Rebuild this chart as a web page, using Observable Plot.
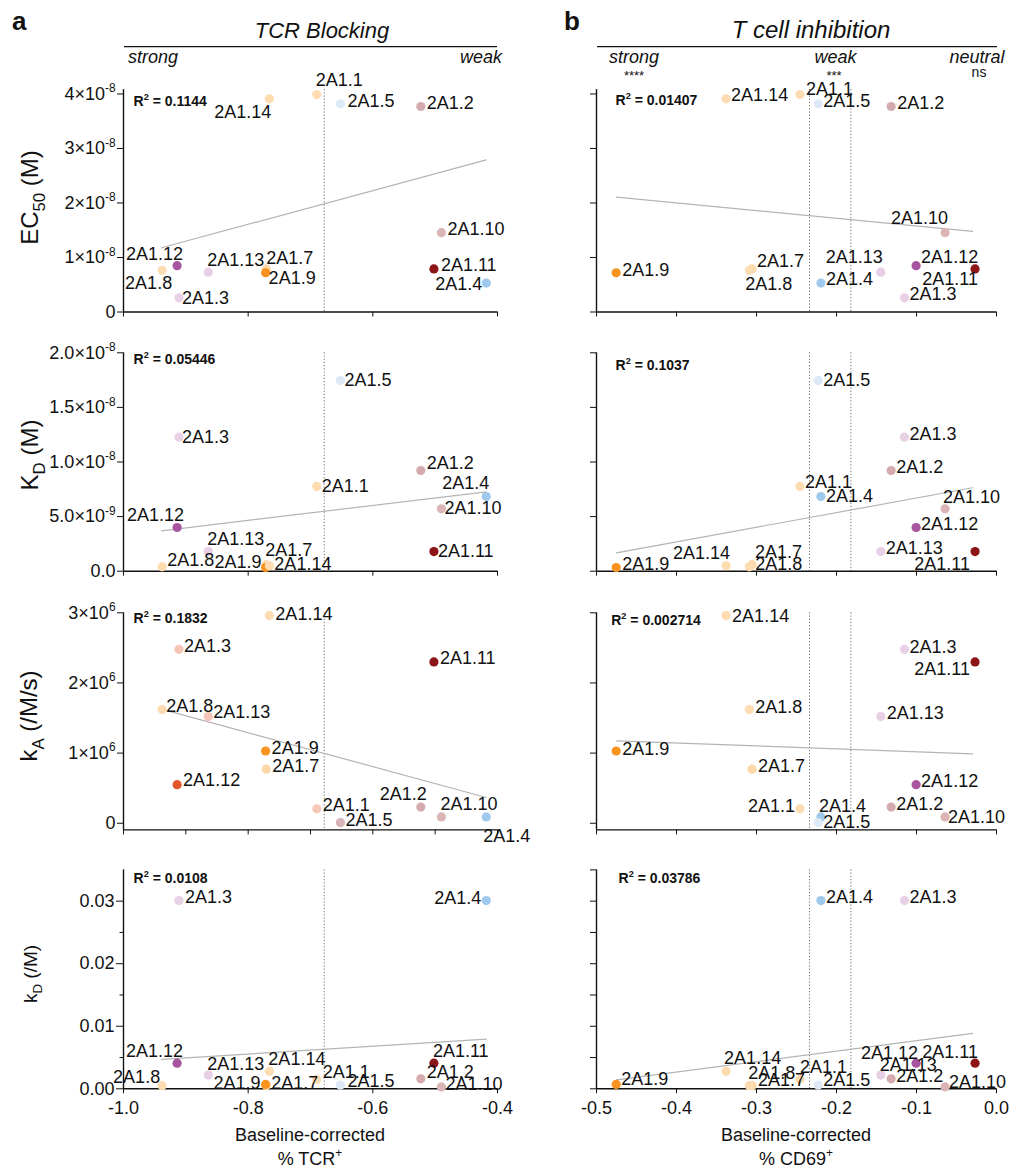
<!DOCTYPE html>
<html><head><meta charset="utf-8">
<script src="https://cdn.jsdelivr.net/npm/d3@7"></script>
<script src="https://cdn.jsdelivr.net/npm/@observablehq/plot@0.6"></script>
<style>
body{margin:0;background:#fff;}
#root{position:relative;width:1013px;height:1171px;overflow:hidden;font-family:"Liberation Sans",Arial,Helvetica,sans-serif;background:#fff;}
.panel{position:absolute;}
#overlay{position:absolute;left:0;top:0;pointer-events:none;}
</style></head><body><div id="root"></div>
<script>
// ---------------- DATA ----------------
const antibodies = ["2A1.1","2A1.2","2A1.3","2A1.4","2A1.5","2A1.7","2A1.8","2A1.9","2A1.10","2A1.11","2A1.12","2A1.13","2A1.14"];
// baseline-corrected % TCR+ (TCR blocking)
const tcrX  = [-0.690,-0.523,-0.911,-0.418,-0.652,-0.771,-0.938,-0.772,-0.490,-0.502,-0.914,-0.864,-0.766];
// baseline-corrected % CD69+ (T cell inhibition)
const cd69X = [-0.2457,-0.1317,-0.115,-0.2195,-0.2228,-0.3056,-0.309,-0.4754,-0.0643,-0.0268,-0.1005,-0.1446,-0.338];
const ec50  = [3.99e-8,3.77e-8,0.26e-8,0.53e-8,3.82e-8,0.79e-8,0.765e-8,0.72e-8,1.455e-8,0.79e-8,0.85e-8,0.73e-8,3.91e-8];
const kdEq  = [0.776e-8,0.922e-8,1.227e-8,0.684e-8,1.746e-8,0.06e-8,0.04e-8,0.034e-8,0.571e-8,0.18e-8,0.40e-8,0.18e-8,0.05e-8];
const kOn   = [0.205e6,0.23e6,2.48e6,0.09e6,0.01e6,0.77e6,1.62e6,1.03e6,0.09e6,2.30e6,0.55e6,1.52e6,2.96e6];
const kOff  = [0.0015,0.0016,0.0301,0.0301,0.0006,0.0005,0.0005,0.0007,0.0003,0.0041,0.0041,0.0022,0.0028];

// linear fits (end points)
const fitTcrX  = [-0.939,-0.418];
const fitCd69X = [-0.475,-0.030];
const fitEc50Tcr = [1.178e-8, 2.79e-8],  fitEc50Cd69 = [2.107e-8, 1.48e-8];
const fitKdTcr   = [0.370e-8, 0.727e-8], fitKdCd69   = [0.168e-8, 0.764e-8];
const fitKaTcr   = [1.626e6, 0.367e6],   fitKaCd69   = [1.175e6, 0.99e6];
const fitKoffTcr = [0.00469, 0.00794],   fitKoffCd69 = [0.00144, 0.00885];
const r2Tcr  = ["0.1144","0.05446","0.1832","0.0108"];
const r2Cd69 = ["0.01407","0.1037","0.002714","0.03786"];

const tcrCutoffs  = [-0.678];
const cd69Cutoffs = [-0.2337,-0.182];

// ticks
const tcrTicks = [-1.0,-0.8,-0.6,-0.4];
const tcrTicksFine = [-1.0,-0.9,-0.8,-0.7,-0.6,-0.5,-0.4];
const cd69Ticks = [-0.5,-0.4,-0.3,-0.2,-0.1,0];
const ec50Ticks = [0,1e-8,2e-8,3e-8,4e-8];
const ec50TickLabels = ["0","1×10^{-8}","2×10^{-8}","3×10^{-8}","4×10^{-8}"];
const kdTicks = [0,5e-9,1e-8,1.5e-8,2e-8];
const kdTickLabels = ["0.0","5.0×10^{-9}","1.0×10^{-8}","1.5×10^{-8}","2.0×10^{-8}"];
const kaTicks = [0,1e6,2e6,3e6];
const kaTickLabels = ["0","1×10^{6}","2×10^{6}","3×10^{6}"];
const koffTicks = [0,0.01,0.02,0.03];
const koffTickLabels = ["0.00","0.01","0.02","0.03"];
const koffMinorTicks = [0.005,0.015,0.025];
const koffTicksRight = [0,0.005,0.01,0.015,0.02,0.025,0.03,0.035];

// ---------------- STYLE / LAYOUT ----------------
const FONT = '"Liberation Sans", Arial, Helvetica, sans-serif';
const baseColors = {"2A1.1":"#fddcb2","2A1.2":"#d5aaae","2A1.3":"#e8d0e6","2A1.4":"#9fc9ec","2A1.5":"#dde9f6",
  "2A1.7":"#fdd8a8","2A1.8":"#fddcb2","2A1.9":"#f7931e","2A1.10":"#dbb5b5","2A1.11":"#8c1518",
  "2A1.12":"#a8559f","2A1.13":"#e8cfe6","2A1.14":"#fddcb2"};
const colorOverrides = {"2L": {"2A1.1":"#f7c8b7","2A1.3":"#f5c5b8","2A1.13":"#f5c5b8","2A1.12":"#e2562c","2A1.5":"#d8b3b8"}};

// label placement [dx, dy, anchor] per panel
const S="start", E="end";
const labelPos = {
 "0L": {"2A1.14":[2,13,E],"2A1.1":[-1,-14,S],"2A1.5":[7,-3,S],"2A1.2":[6,-3,S],"2A1.10":[6,-3,S],"2A1.11":[7,-4,S],
        "2A1.4":[-4,1,E],"2A1.12":[6,-11,E],"2A1.8":[10,13,E],"2A1.3":[3,0,S],"2A1.13":[-1,-12,S],"2A1.7":[0,-11,S],"2A1.9":[3,5,S]},
 "0R": {"2A1.14":[5,-4,S],"2A1.1":[6,-5,S],"2A1.5":[5,-3,S],"2A1.2":[6,-3,S],"2A1.10":[3,-14,E],"2A1.9":[6,-3,S],"2A1.7":[5,-8,S],
        "2A1.8":[-4,14,S],"2A1.13":[2,-15,E],"2A1.4":[5,-4,S],"2A1.12":[5,-8,S],"2A1.11":[3,10,E],"2A1.3":[5,-4,S]},
 "1L": {"2A1.5":[4,0,S],"2A1.3":[3,0,S],"2A1.2":[6,-7,S],"2A1.1":[5,0,S],"2A1.4":[3,-13,E],"2A1.10":[3,-1,S],"2A1.12":[7,-12,E],
        "2A1.11":[4,0,S],"2A1.13":[-1,-12,S],"2A1.8":[5,-7,S],"2A1.9":[-4,-5,E],"2A1.7":[-1,-14,S],"2A1.14":[5,-2,S]},
 "1R": {"2A1.5":[5,0,S],"2A1.3":[5,-3,S],"2A1.2":[5,-3,S],"2A1.1":[5,-4,S],"2A1.4":[5,0,S],"2A1.10":[-2,-12,S],"2A1.12":[5,-3,S],
        "2A1.13":[5,-3,S],"2A1.11":[-5,13,E],"2A1.9":[6,-3,S],"2A1.14":[4,-13,E],"2A1.7":[3,-12,S],"2A1.8":[6,-3,S]},
 "2L": {"2A1.14":[6,-1,S],"2A1.3":[5,-3,S],"2A1.11":[6,-4,S],"2A1.8":[4,-3,S],"2A1.13":[5,-4,S],"2A1.9":[6,-3,S],"2A1.7":[6,-3,S],
        "2A1.12":[6,-4,S],"2A1.1":[6,-4,S],"2A1.2":[6,-13,E],"2A1.5":[5,-2,S],"2A1.10":[-1,-13,S],"2A1.4":[-3,19,S]},
 "2R": {"2A1.14":[6,1,S],"2A1.3":[5,-2,S],"2A1.11":[-5,7,E],"2A1.8":[6,-2,S],"2A1.13":[6,-3,S],"2A1.9":[6,-2,S],"2A1.7":[6,-3,S],
        "2A1.12":[5,-3,S],"2A1.1":[-5,-3,E],"2A1.4":[-2,-11,S],"2A1.2":[5,-3,S],"2A1.5":[5,0,S],"2A1.10":[3,0,S]},
 "3L": {"2A1.3":[6,-3,S],"2A1.4":[-5,-2,E],"2A1.12":[6,-12,E],"2A1.11":[-1,-12,S],"2A1.13":[-1,-11,S],"2A1.14":[-1,-12,S],
        "2A1.8":[-2,-8,E],"2A1.9":[-5,-1,E],"2A1.7":[5,-2,S],"2A1.1":[6,-7,S],"2A1.5":[7,-4,S],"2A1.2":[6,-7,S],"2A1.10":[4,-3,S]},
 "3R": {"2A1.4":[5,-3,S],"2A1.3":[5,-3,S],"2A1.12":[2,-10,E],"2A1.11":[3,-11,E],"2A1.13":[-1,-10,S],"2A1.14":[-2,-13,S],
        "2A1.8":[-1,-12,S],"2A1.1":[0,-12,S],"2A1.7":[6,-5,S],"2A1.9":[5,-5,S],"2A1.5":[5,-5,S],"2A1.2":[5,-3,S],"2A1.10":[4,-5,S]}
};

const rowsLayout = [
  {top:60,  height:280, mt:29.1, mb:28.5},
  {top:330, height:270, mt:22.3, mb:29.3},
  {top:590, height:270, mt:22.3, mb:30.6},
  {top:850, height:321, mt:19.4, mb:82.7}
];
const sides = {
  L: {left:0, width:510, ml:123, mr:13, domain:[-1.0,-0.4], xs:tcrX, fitX:fitTcrX, cutoffs:tcrCutoffs},
  R: {left:540, width:473, ml:56, mr:17, domain:[-0.5,0.0], xs:cd69X, fitX:fitCd69X, cutoffs:cd69Cutoffs}
};
const metrics = [
  {ys:ec50, domain:[0,4.08e-8], ticks:ec50Ticks, labels:ec50TickLabels, fitL:fitEc50Tcr, fitR:fitEc50Cd69},
  {ys:kdEq, domain:[0,2e-8], ticks:kdTicks, labels:kdTickLabels, fitL:fitKdTcr, fitR:fitKdCd69},
  {ys:kOn, domain:[-0.095e6,3e6], ticks:kaTicks, labels:kaTickLabels, fitL:fitKaTcr, fitR:fitKaCd69},
  {ys:kOff, domain:[0,0.035], ticks:koffTicks, labels:koffTickLabels, fitL:fitKoffTcr, fitR:fitKoffCd69}
];
const r2Offsets = {L:[[10,6.4],[10,1.5],[10,0.5],[10,2.8]], R:[[19,5.7],[19,7.2],[14.7,2.2],[22,2.8]]};

const tickLeft = len => ({draw(ctx){ ctx.moveTo(-len,0); ctx.lineTo(0,0); }});

// ---------------- RICH TEXT (sup/sub) ----------------
const NS = "http://www.w3.org/2000/svg";
function richify(root){
  root.querySelectorAll("text").forEach(t => {
    const s = t.textContent;
    if (!/[\^_]\{/.test(s)) return;
    const fs = parseFloat(getComputedStyle(t).fontSize) || 18;
    while (t.firstChild) t.removeChild(t.firstChild);
    const re = /([\^_])\{([^}]*)\}/g;
    let last = 0, m, shift = 0;
    const add = (str, kind) => {
      const ts = document.createElementNS(NS, "tspan");
      ts.textContent = str;
      let target = 0;
      if (kind === "^") { target = -0.42*fs; ts.setAttribute("font-size", (0.66*fs).toFixed(1)); }
      else if (kind === "_") { target = 0.28*fs; ts.setAttribute("font-size", (0.7*fs).toFixed(1)); }
      const d = target - shift;
      if (d) ts.setAttribute("dy", d.toFixed(2));
      shift = target;
      t.appendChild(ts);
    };
    while ((m = re.exec(s))) { if (m.index > last) add(s.slice(last, m.index), ""); add(m[2], m[1]); last = re.lastIndex; }
    if (last < s.length) add(s.slice(last), "");
  });
}

// ---------------- PANELS ----------------
const root = document.getElementById("root");
rowsLayout.forEach((row, ri) => {
  const met = metrics[ri];
  ["L","R"].forEach(sk => {
    const side = sides[sk];
    const key = ri + sk;
    const colors = Object.assign({}, baseColors, colorOverrides[key] || {});
    const data = antibodies.map((name, i) => ({name, x: side.xs[i], y: met.ys[i], color: colors[name]}));
    const fitY = sk === "L" ? met.fitL : met.fitR;
    const fit = side.fitX.map((x, i) => ({x, y: fitY[i]}));
    const isBottom = ri === 3;
    let xTicks = sk === "L" ? (ri === 2 ? tcrTicksFine : tcrTicks) : cd69Ticks;
    const yTicks = (sk === "R" && ri === 3) ? koffTicksRight : met.ticks;
    const r2 = sk === "L" ? r2Tcr[ri] : r2Cd69[ri];
    const [r2dx, r2dy] = r2Offsets[sk][ri];
    const x0 = side.domain[0], y0 = met.domain[0];

    const marks = [
      Plot.ruleX(side.cutoffs, {stroke:"#6a6a6a", strokeWidth:1, strokeDasharray:"1.2,2"}),
      Plot.line(fit, {x:"x", y:"y", stroke:"#b4b4b4", strokeWidth:1.2}),
      Plot.ruleX([x0], {stroke:"#111", strokeWidth:1.4}),
      Plot.ruleY([y0], {stroke:"#111", strokeWidth:1.4})
    ];
    if (sk === "L" && ri === 3) {
      marks.push(Plot.dot(koffMinorTicks, {x: () => x0, y: d => d, symbol: tickLeft(4), stroke:"#111", strokeWidth:1, fill:"none"}));
    }
    marks.push(Plot.dot(data, {x:"x", y:"y", r:4.6, fill:"color"}));
    data.forEach(d => {
      const p = labelPos[key][d.name] || [5,-3,S];
      marks.push(Plot.text([d], {x:"x", y:"y", text:"name", dx:p[0], dy:p[1], textAnchor:p[2], fontSize:18, fill:"#111"}));
    });
    marks.push(Plot.text([`R^{2} = ${r2}`], {frameAnchor:"top-left", text: d => d, dx:r2dx, dy:r2dy,
      textAnchor:"start", fontSize:14, fontWeight:"bold", fill:"#111"}));

    const plot = Plot.plot({
      width: side.width, height: row.height,
      marginLeft: side.ml, marginRight: side.mr, marginTop: row.mt, marginBottom: row.mb,
      x: {domain: side.domain, ticks: xTicks, tickSize: 5, tickPadding: 7, label: null,
          tickFormat: isBottom ? (d => (Math.abs(d) < 1e-9 ? 0 : d).toFixed(1)) : (() => "")},
      y: {domain: met.domain, ticks: yTicks, tickSize: (ri === 3 && sk === "L") ? 7 : 6, tickPadding: 2, label: null,
          tickFormat: sk === "L" ? (d => met.labels[met.ticks.indexOf(d)]) : (() => "")},
      color: {type: "identity"},
      style: {fontFamily: FONT, fontSize: "18px", overflow: "visible", background: "transparent", color: "#111"},
      marks
    });
    const div = document.createElement("div");
    div.className = "panel";
    div.style.left = side.left + "px";
    div.style.top = row.top + "px";
    div.appendChild(plot);
    root.appendChild(div);
    richify(plot);
  });
});

// ---------------- OVERLAY (headers & axis titles) ----------------
const ov = d3.select(root).append("svg").attr("id","overlay").attr("width",1013).attr("height",1171)
  .style("font-family", FONT).attr("fill","#111");
function txt(x, y, s, o = {}) {
  const t = ov.append("text").attr("x", x).attr("y", y).attr("font-size", o.size || 18)
    .attr("text-anchor", o.anchor || "start").text(s);
  if (o.weight) t.attr("font-weight", o.weight);
  if (o.style) t.attr("font-style", o.style);
  if (o.rotate) t.attr("x", null).attr("y", null).attr("transform", `translate(${x},${y}) rotate(-90)`);
  return t;
}
txt(12, 30, "a", {size:26, weight:"bold"});
txt(564, 30, "b", {size:26, weight:"bold"});
txt(322, 38, "TCR Blocking", {size:22, style:"italic", anchor:"middle"});
txt(811, 38, "T cell inhibition", {size:24, style:"italic", anchor:"middle"});
ov.append("line").attr("x1",124).attr("x2",497).attr("y1",46.7).attr("y2",46.7).attr("stroke","#111").attr("stroke-width",1.3);
ov.append("line").attr("x1",597).attr("x2",997).attr("y1",46.7).attr("y2",46.7).attr("stroke","#111").attr("stroke-width",1.3);
txt(128, 63, "strong", {style:"italic"});
txt(502, 63, "weak", {style:"italic", anchor:"end"});
txt(634, 63, "strong", {style:"italic", anchor:"middle"});
txt(634, 80, "****", {size:13, anchor:"middle"});
txt(835.5, 63, "weak", {style:"italic", anchor:"middle"});
txt(834, 80, "***", {size:13, anchor:"middle"});
txt(1004.5, 63, "neutral", {style:"italic", anchor:"end"});
txt(979, 77, "ns", {size:14, anchor:"middle"});

txt(38, 197.5, "EC_{50} (M)", {size:24, anchor:"middle", rotate:true});
txt(38, 455, "K_{D} (M)", {size:24, anchor:"middle", rotate:true});
txt(37, 716, "k_{A} (/M/s)", {size:24, anchor:"middle", rotate:true});
txt(37, 974, "k_{D} (/M)", {size:19, anchor:"middle", rotate:true});

txt(310, 1141, "Baseline-corrected", {anchor:"middle"});
txt(310, 1165, "% TCR^{+}", {anchor:"middle"});
txt(796, 1141, "Baseline-corrected", {anchor:"middle"});
txt(796, 1165, "% CD69^{+}", {anchor:"middle"});
richify(ov.node());
</script>
</body></html>
